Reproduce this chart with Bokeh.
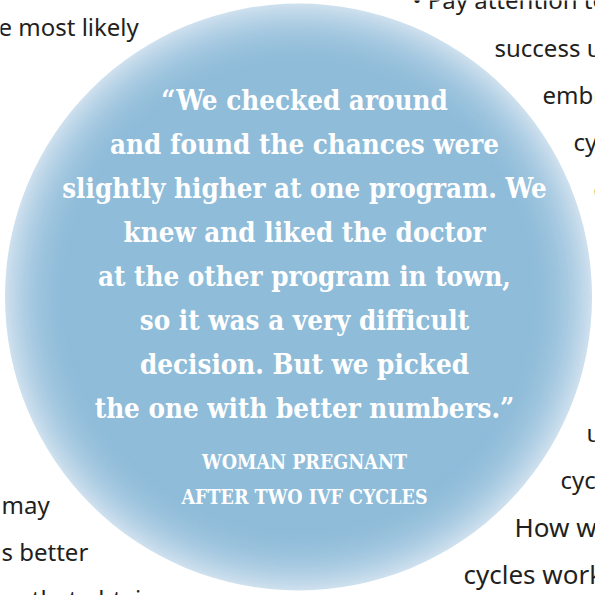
import numpy as np
from bokeh.plotting import figure
from bokeh.models import Range1d
from bokeh.core.properties import value
from bokeh.embed import file_html
from bokeh.resources import INLINE

# ---- text content ----
quote_lines = [
    "\u201cWe checked around",
    "and found the chances were",
    "slightly higher at one program. We",
    "knew and liked the doctor",
    "at the other program in town,",
    "so it was a very difficult",
    "decision. But we picked",
    "the one with better numbers.\u201d",
]
attribution_lines = ["WOMAN PREGNANT", "AFTER TWO IVF CYCLES"]

left_fragments = ["e most likely", "may", "s better", "es that obtain"]
right_fragments = ["\u2022 Pay attention to", "success using", "embryos", "cycles", "c",
                   "u", "cycles"]
right_wide_fragments = ["How well", "cycles worked"]

# ---- positions (page pixels) ----
quote_x = 304
quote_baselines = [99, 143, 187, 231, 275, 319, 363, 407]
attr_baselines = [462, 497]
left_x = [-2, 1, 1, 0]
left_baselines = [26, 504, 551, 598]
right_x = [412, 494, 542, 573, 593, 586, 560]
right_baselines = [-1, 47, 94, 141, 188, 432, 479]
right_wide_x = [514, 463]
right_wide_baselines = [526, 573]

# circle geometry
cx, cy, R = 298, 296.5, 293.5

p = figure(width=595, height=595, x_range=Range1d(0, 595), y_range=Range1d(595, 0),
           output_backend="svg", toolbar_location=None, min_border=0,
           x_axis_location=None, y_axis_location=None)
p.xgrid.visible = False
p.ygrid.visible = False
p.outline_line_color = None
p.background_fill_color = "white"
p.border_fill_color = "white"

body_font = value("Noto Sans")
ink = "#231f20"

p.text(x=left_x, y=left_baselines, text=left_fragments, text_font=body_font,
       text_font_size="24px", text_color=ink, text_baseline="alphabetic", text_align="left")
p.text(x=right_x, y=right_baselines, text=right_fragments, text_font=body_font,
       text_font_size="24px", text_color=ink, text_baseline="alphabetic", text_align="left")
p.text(x=right_wide_x, y=right_wide_baselines, text=right_wide_fragments, text_font=body_font,
       text_font_size="26px", text_color=ink, text_baseline="alphabetic", text_align="left")

# radial gradient disc: light rim fading to the body blue
n = 60
W = 64.0
depth = np.linspace(0, W, n)
radii = R - depth
t = depth / W
rim = np.array([206, 224, 238])
core = np.array([143, 188, 217])
mix = (1 - t) ** 2.0
cols = [
    "#%02x%02x%02x" % tuple(int(round(c)) for c in (core + (rim - core) * m))
    for m in mix
]
p.circle(x=[cx] * n, y=[cy] * n, radius=list(radii), fill_color=cols, line_color=None)

quote_font = value("DejaVu Serif Condensed")
p.text(x=[quote_x] * len(quote_lines), y=quote_baselines, text=quote_lines,
       text_font=quote_font, text_font_style="bold", text_font_size="27.5px",
       text_color="white", text_align="center", text_baseline="alphabetic")
p.text(x=[quote_x] * len(attribution_lines), y=attr_baselines, text=attribution_lines,
       text_font=quote_font, text_font_style="bold", text_font_size="19.5px",
       text_color="white", text_align="center", text_baseline="alphabetic")

open("out.html", "w").write(file_html(p, INLINE))
